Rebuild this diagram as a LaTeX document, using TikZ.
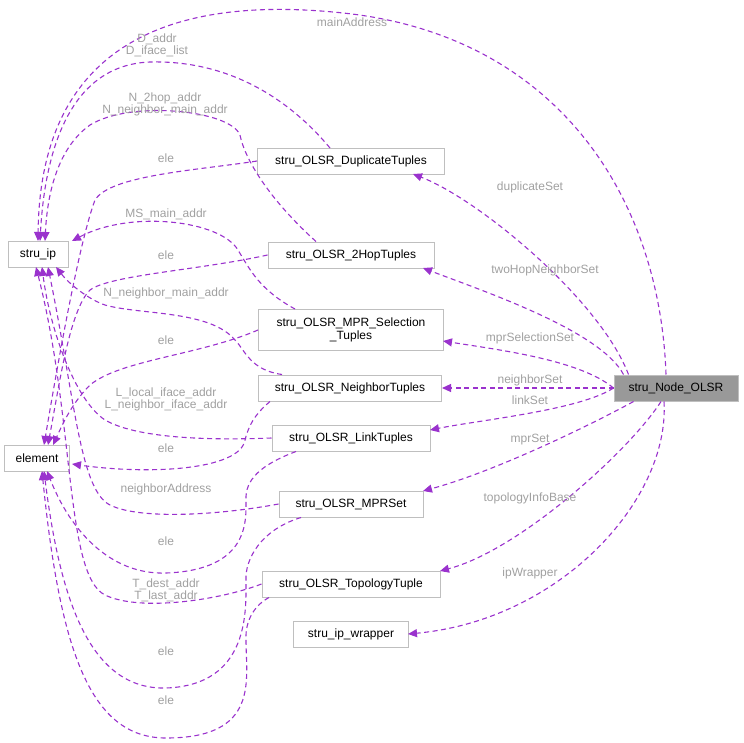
\documentclass[tikz,border=0pt]{standalone}
\usepackage{fontspec}
\setmainfont{Liberation Sans}
\usetikzlibrary{arrows.meta}
\begin{document}
\begin{tikzpicture}[x=1pt,y=-1pt,
 box/.style={draw=black!25,line width=1pt,fill=white,inner sep=0pt,font=\fontsize{12}{13.5}\selectfont,align=center},
 e/.style={draw={rgb,255:red,154;green,50;blue,205},color={rgb,255:red,154;green,50;blue,205},dash pattern=on 5pt off 3.5pt,line width=1.1pt,-{Triangle[width=8pt,length=9pt]}},
 lab/.style={text={rgb,255:red,160;green,160;blue,160},font=\fontsize{12}{12}\selectfont,align=center}]
\useasboundingbox (0,0) rectangle (744,742);
\node[box,minimum width=60,minimum height=26] (ip) at (38,254) {stru\_ip};
\node[box,minimum width=65,minimum height=26] (el) at (37,458) {element};
\node[box,minimum width=187,minimum height=26] (dup) at (351,161) {stru\_OLSR\_DuplicateTuples};
\node[box,minimum width=166,minimum height=26] (two) at (351,255) {stru\_OLSR\_2HopTuples};
\node[box,minimum width=185,minimum height=41] (mps) at (351,330) {stru\_OLSR\_MPR\_Selection\\\_Tuples};
\node[box,minimum width=183,minimum height=26] (nb) at (350,388) {stru\_OLSR\_NeighborTuples};
\node[box,minimum width=158,minimum height=26] (lk) at (351,438) {stru\_OLSR\_LinkTuples};
\node[box,minimum width=144,minimum height=26] (mpr) at (351,504) {stru\_OLSR\_MPRSet};
\node[box,minimum width=178,minimum height=26] (top) at (351,584) {stru\_OLSR\_TopologyTuple};
\node[box,minimum width=115,minimum height=26] (wr) at (351,634) {stru\_ip\_wrapper};
\node[box,minimum width=124,minimum height=26,fill=black!40] (n) at (676,388) {stru\_Node\_OLSR};
\coordinate (ipt) at (38,241);
% from Node
\draw[e] (n.north) ++(-10,0) .. controls (660,200) and (560,40) .. (352,14) .. controls (150,-10) and (40,60) .. (ipt);
\draw[e] (n.north west) ++(15,0) .. controls (600,300) and (480,200) .. (413,174);
\draw[e] (n.north west) ++(10,0) .. controls (600,330) and (480,290) .. (423,268);
\draw[e] (n.west) .. controls (580,360) and (500,350) .. (443,341);
\draw[e] (n.west) -- (nb.east);
\draw[e] (n.west) .. controls (580,410) and (480,420) .. (430,430);
\draw[e] (n.south west) ++(20,0) .. controls (600,420) and (500,470) .. (423,491);
\draw[e] (n.south) ++(-15,0) .. controls (630,450) and (520,550) .. (440,571);
\draw[e] (n.south) ++(-12,0) .. controls (670,500) and (560,620) .. (408,634);
\node[lab] at (352,22) {mainAddress};
\node[lab] at (530,187) {duplicateSet};
\node[lab] at (545,270) {twoHopNeighborSet};
\node[lab] at (530,338) {mprSelectionSet};
\node[lab] at (530,380) {neighborSet};
\node[lab] at (530,400) {linkSet};
\node[lab] at (530,440) {mprSet};
\node[lab] at (530,498) {topologyInfoBase};
\node[lab] at (530,573) {ipWrapper};
% to stru_ip
\draw[e] (330,148) .. controls (290,100) and (230,60) .. (150,62) .. controls (70,65) and (45,150) .. (40,241);
\draw[e] (two.north) ++(-35,0) .. controls (270,200) and (245,160) .. (240,135) .. controls (230,110) and (130,100) .. (90,125) .. controls (55,150) and (47,200) .. (45,241);
\draw[e] (mps.north) ++(-56,0) .. controls (260,290) and (250,270) .. (238,250) .. controls (220,220) and (130,210) .. (72,241);
\draw[e] (nb.north) ++(-68,0) .. controls (250,370) and (245,350) .. (235,340) .. controls (210,310) and (140,315) .. (105,305) .. controls (90,300) and (70,285) .. (56,267);
\draw[e] (lk.west) .. controls (220,440) and (140,440) .. (105,420) .. controls (75,400) and (50,330) .. (42,267);
\draw[e] (mpr.west) .. controls (220,515) and (140,520) .. (110,505) .. controls (80,490) and (75,400) .. (48,267);
\draw[e] (top.west) .. controls (220,600) and (140,612) .. (105,595) .. controls (65,575) and (75,420) .. (36,267);
\node[lab] at (157,45) {D\_addr\\D\_iface\_list};
\node[lab] at (165,104) {N\_2hop\_addr\\N\_neighbor\_main\_addr};
\node[lab] at (166,214) {MS\_main\_addr};
\node[lab] at (166,293) {N\_neighbor\_main\_addr};
\node[lab] at (166,399) {L\_local\_iface\_addr\\L\_neighbor\_iface\_addr};
\node[lab] at (166,489) {neighborAddress};
\node[lab] at (166,590) {T\_dest\_addr\\T\_last\_addr};
% to element
\draw[e] (dup.west) .. controls (200,170) and (110,175) .. (95,200) .. controls (80,240) and (60,350) .. (44,445);
\draw[e] (two.west) .. controls (200,270) and (110,275) .. (90,290) .. controls (70,310) and (60,380) .. (48,445);
\draw[e] (mps.west) .. controls (200,355) and (120,360) .. (90,385) .. controls (70,405) and (60,430) .. (53,445);
\draw[e] (nb.south west) ++(12,0) .. controls (260,410) and (250,420) .. (245,440) .. controls (240,470) and (150,475) .. (72,464);
\draw[e] (lk.south) ++(-55,0) .. controls (260,465) and (245,480) .. (246,500) .. controls (246,520) and (250,570) .. (166,573) .. controls (110,575) and (70,530) .. (47,471);
\draw[e] (mpr.south) ++(-50,0) .. controls (260,530) and (245,560) .. (246,580) .. controls (246,610) and (250,685) .. (166,688) .. controls (90,690) and (60,600) .. (44,471);
\draw[e] (top.south) ++(-82,0) .. controls (255,605) and (245,620) .. (246,640) .. controls (246,680) and (260,738) .. (166,738) .. controls (90,738) and (60,650) .. (42,471);
\node[lab] at (166,158) {ele};
\node[lab] at (166,255) {ele};
\node[lab] at (166,340) {ele};
\node[lab] at (166,448) {ele};
\node[lab] at (166,541) {ele};
\node[lab] at (166,651) {ele};
\node[lab] at (166,700) {ele};
\end{tikzpicture}
\end{document}
